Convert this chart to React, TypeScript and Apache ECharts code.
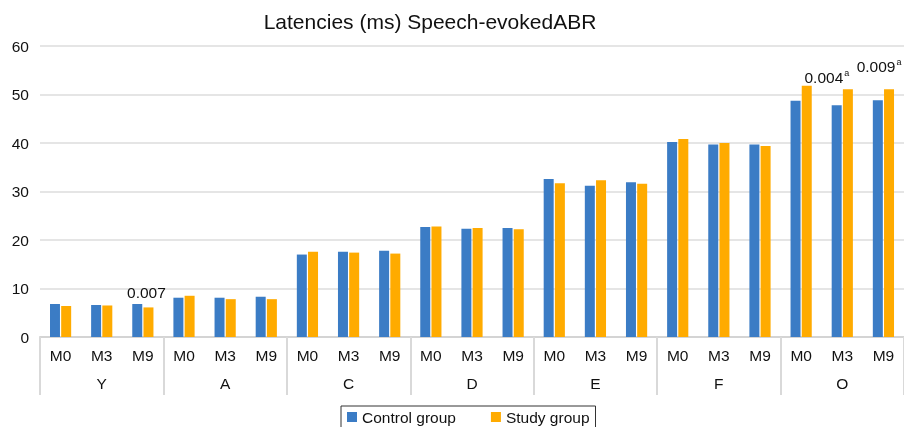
import React, { useEffect, useRef } from "react";
import * as echarts from "echarts";

const groups = ["Y", "A", "C", "D", "E", "F", "O"];
const months = ["M0", "M3", "M9"];
const controlGroup = [
  6.8, 6.6, 6.8,
  8.1, 8.1, 8.3,
  17.0, 17.6, 17.8,
  22.7, 22.3, 22.5,
  32.6, 31.2, 31.9,
  40.2, 39.7, 39.7,
  48.7, 47.8, 48.8,
];
const studyGroup = [
  6.4, 6.5, 6.1,
  8.5, 7.8, 7.8,
  17.6, 17.4, 17.2,
  22.8, 22.5, 22.2,
  31.7, 32.3, 31.6,
  40.8, 40.0, 39.4,
  51.8, 51.1, 51.1,
];
// annotations: [category index, p-value, superscript, offsetX, offsetY]
const annotations: [number, string, string, number, number][] = [
  [2, "0.007", "", -2, -2],
  [19, "0.004", "a", -21, 2],
  [20, "0.009", "a", -10, -9],
];

const categories = groups.flatMap(() => months);

export default function App() {
  const ref = useRef<HTMLDivElement>(null);
  useEffect(() => {
    if (!ref.current) return;
    const chart = echarts.init(ref.current, null, { renderer: "svg" });
    const font = "Liberation Sans, Arial, Helvetica, sans-serif";
    const fs = 15.5;
    const studyData = studyGroup.map((v, i) => {
      const a = annotations.find((x) => x[0] === i);
      if (!a) return v;
      return {
        value: v,
        label: {
          show: true,
          position: "top",
          offset: [a[3], a[4]],
          formatter: a[2] ? `{n|${a[1]}}{s|${a[2]}}` : `{n|${a[1]}}`,
          rich: {
            n: { fontSize: fs, color: "#111", fontFamily: font },
            s: { fontSize: 9, color: "#111", fontFamily: font, padding: [0, 0, 9, 1] },
          },
        },
      };
    });
    chart.setOption({
      animation: false,
      textStyle: { fontFamily: font },
      title: {
        text: "Latencies (ms) Speech-evokedABR",
        left: 425,
        textAlign: "center",
        top: 6,
        textStyle: { fontSize: 21, fontWeight: "normal", color: "#111", fontFamily: font },
      },
      legend: {
        left: 341,
        top: 406,
        itemWidth: 10,
        itemHeight: 10,
        itemGap: 35,
        icon: "rect",
        borderColor: "#333",
        borderWidth: 1,
        borderRadius: 0,
        padding: [3, 6, 8, 6],
        textStyle: { fontSize: fs, color: "#111", fontFamily: font },
        data: ["Control group", "Study group"],
      },
      grid: { left: 40, right: 0, top: 46, bottom: 90 },
      xAxis: [
        {
          type: "category",
          data: categories,
          position: "bottom",
          axisLine: { show: true, lineStyle: { color: "#d4d4d4", width: 2 } },
          axisTick: { show: false },
          axisLabel: { margin: 10, fontSize: fs, color: "#111", interval: 0 },
        },
        {
          type: "category",
          data: groups,
          position: "bottom",
          axisLine: { show: false },
          axisTick: { show: true, length: 58, interval: 0, lineStyle: { color: "#d9d9d9", width: 2 } },
          axisLabel: { margin: 38, fontSize: fs, color: "#111", interval: 0 },
        },
      ],
      yAxis: {
        type: "value",
        min: 0,
        max: 60,
        interval: 10,
        axisLine: { show: false },
        axisTick: { show: false },
        axisLabel: { fontSize: fs, color: "#111", margin: 11 },
        splitLine: { lineStyle: { color: "#dcdcdc", width: 1.5 } },
      },
      series: [
        {
          name: "Control group",
          type: "bar",
          data: controlGroup,
          barWidth: 10,
          barGap: "12%",
          itemStyle: { color: "#3b7cc5" },
        },
        {
          name: "Study group",
          type: "bar",
          data: studyData,
          barWidth: 10,
          barGap: "12%",
          itemStyle: { color: "#ffab00" },
        },
      ],
    });
    return () => chart.dispose();
  }, []);
  return (
    <div
      ref={ref}
      style={{ position: "fixed", left: 0, top: 0, width: 904, height: 427 }}
    />
  );
}
